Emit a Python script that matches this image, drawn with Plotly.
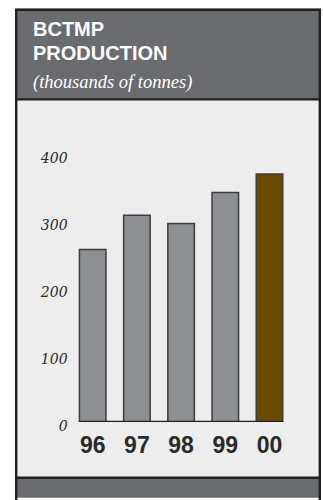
import plotly.graph_objects as go

# BCTMP production by year (thousands of tonnes)
years = ["96", "97", "98", "99", "00"]
production = [258, 309, 297, 343, 371]
bar_colors = ["#8e8f93", "#8e8f93", "#8e8f93", "#8e8f93", "#6b4900"]
y_ticks = [0, 100, 200, 300, 400]
title_lines = ["BCTMP", "PRODUCTION"]
subtitle = "(thousands of tonnes)"

W, H = 323, 500
HEADER = "#6a6b6f"
PANEL = "#ededed"
INK = "#231f20"


def px(x):
    return x / W


def py(y):
    return 1 - y / H


fig = go.Figure()

fig.add_trace(go.Bar(
    x=years, y=production,
    marker=dict(color=bar_colors, line=dict(color="#3c3c3c", width=1.5)),
    hoverinfo="skip",
))

# card frame, in page pixels converted to paper fractions
frame = [
    dict(type="rect", x0=16, x1=320, y0=9, y1=102, fillcolor=HEADER, line_width=0),
    dict(type="rect", x0=16, x1=320, y0=102, y1=490, fillcolor=PANEL, line_width=0),
    dict(type="rect", x0=16, x1=320, y0=490, y1=510, fillcolor=HEADER, line_width=0),
    dict(type="rect", x0=16.2, x1=319.8, y0=10, y1=520, line=dict(color=INK, width=2.4)),
    dict(type="line", x0=16, x1=320, y0=101.8, y1=101.8, line=dict(color=INK, width=2.2)),
    dict(type="line", x0=16, x1=320, y0=489.5, y1=489.5, line=dict(color=INK, width=2.4)),
]
shapes = []
for s in frame:
    s = dict(s)
    s.update(x0=px(s["x0"]), x1=px(s["x1"]), y0=py(s["y0"]), y1=py(s["y1"]),
             xref="paper", yref="paper", layer="below")
    shapes.append(s)

# baseline under the bars, spanning the outer bar edges
shapes.append(dict(type="line", xref="x", yref="y", x0=-0.3, x1=len(years) - 0.7,
                   y0=0, y1=0, line=dict(color=INK, width=2.5), layer="above"))

title_font = dict(family="Liberation Sans", size=20, color="white", weight="bold")
annotations = [
    dict(text=title_lines[0], x=px(31), y=py(29.5), xanchor="left", yanchor="middle",
         xref="paper", yref="paper", showarrow=False, font=title_font),
    dict(text=title_lines[1], x=px(31), y=py(54.8), xanchor="left", yanchor="middle",
         xref="paper", yref="paper", showarrow=False, font=title_font),
    dict(text=subtitle, x=px(31), y=py(85), xanchor="left", yanchor="middle",
         xref="paper", yref="paper", showarrow=False,
         font=dict(family="Liberation Serif", size=18.5, color="white", style="italic")),
]

fig.update_layout(
    width=W, height=H,
    margin=dict(l=0, r=0, t=0, b=0, pad=0),
    paper_bgcolor="white", plot_bgcolor="rgba(0,0,0,0)",
    showlegend=False, bargap=0.4,
    shapes=shapes, annotations=annotations,
    xaxis=dict(domain=[px(70.6), px(291.6)], type="category",
               range=[-0.5, len(years) - 0.5], showgrid=False, zeroline=False,
               showline=False, ticks="", ticklabelstandoff=7,
               tickfont=dict(family="Liberation Sans Narrow, Liberation Sans", size=23,
                             color="#2a2a2a", weight="bold")),
    yaxis=dict(domain=[py(432.5), py(124)],
               range=[0, 450], tickvals=y_ticks, showgrid=False, zeroline=False,
               showline=False, ticks="", ticklabelshift=4, ticklabelstandoff=2,
               tickfont=dict(family="DejaVu Serif", size=14, color="#2a2a2a",
                             style="italic")),
)

fig.write_html("out.html")
